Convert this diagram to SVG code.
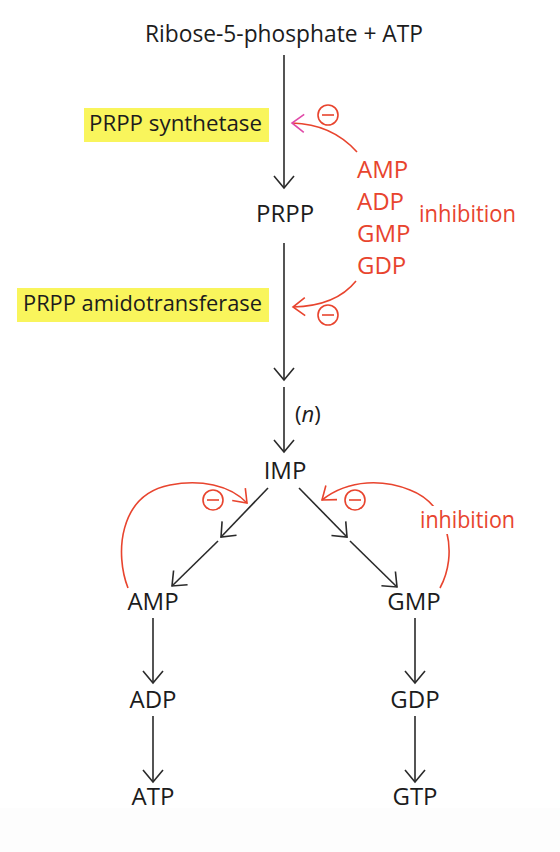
<svg xmlns="http://www.w3.org/2000/svg" width="560" height="852" viewBox="0 0 560 852">
<defs>
<style>
text{font-family:"Open Sans","Noto Sans",sans-serif;font-size:24px;fill:#1c1c1c}
.red{fill:#e8442e}
.c{text-anchor:middle}
.box{font-size:22px}
.ln{stroke:#2a2a2a;stroke-width:1.6;fill:none}
.rl{stroke:#e8442e;stroke-width:1.6;fill:none}
.hl{fill:#f9f55c}
.circ{stroke:#e8442e;stroke-width:1.6;fill:none}
</style>
<marker id="ah" markerUnits="userSpaceOnUse" markerWidth="30" markerHeight="30" viewBox="-16 -15 30 30" refX="0" refY="0" orient="auto" overflow="visible">
<path d="M-12,-10 L0,0 L-12,10" fill="none" stroke="#2a2a2a" stroke-width="1.6"/>
</marker>
<marker id="ahr" markerUnits="userSpaceOnUse" markerWidth="30" markerHeight="30" viewBox="-16 -15 30 30" refX="0" refY="0" orient="auto" overflow="visible">
<path d="M-12,-9 L0,0 L-12,9" fill="none" stroke="#e8442e" stroke-width="1.6"/>
</marker>
<marker id="ahm" markerUnits="userSpaceOnUse" markerWidth="30" markerHeight="30" viewBox="-16 -15 30 30" refX="0" refY="0" orient="auto" overflow="visible">
<path d="M-12,-9 L0,0 L-12,9" fill="none" stroke="#e04aa8" stroke-width="1.6"/>
</marker>
</defs>
<rect x="0" y="0" width="560" height="852" fill="#ffffff"/>
<rect x="0" y="808" width="560" height="44" fill="#fdfdfd"/>

<g id="connectors">
<line class="ln" x1="284" y1="55" x2="284" y2="188" marker-end="url(#ah)"/>
<line class="ln" x1="284" y1="243" x2="284" y2="380" marker-end="url(#ah)"/>
<line class="ln" x1="284" y1="387" x2="284" y2="452" marker-end="url(#ah)"/>
<line class="ln" x1="268" y1="488" x2="221" y2="537" marker-end="url(#ah)"/>
<line class="ln" x1="218" y1="541" x2="172" y2="586" marker-end="url(#ah)"/>
<line class="ln" x1="299" y1="488" x2="347" y2="537" marker-end="url(#ah)"/>
<line class="ln" x1="350" y1="541" x2="397" y2="587" marker-end="url(#ah)"/>
<line class="ln" x1="153" y1="618" x2="153" y2="683" marker-end="url(#ah)"/>
<line class="ln" x1="153" y1="716" x2="153" y2="782" marker-end="url(#ah)"/>
<line class="ln" x1="415" y1="618" x2="415" y2="683" marker-end="url(#ah)"/>
<line class="ln" x1="415" y1="716" x2="415" y2="782" marker-end="url(#ah)"/>
<path class="rl" d="M357,152 Q332,124 292,123" marker-end="url(#ahm)"/>
<path class="rl" d="M356,281 Q336,306 293,307" marker-end="url(#ahr)"/>
<path class="rl" d="M128,588 C115,555 118,495 170,485 C200,479 230,485 247,503" marker-end="url(#ahr)"/>
<path class="rl" d="M440,588 C458,555 450,505 410,490 C385,480 350,478 322,500" marker-end="url(#ahr)"/>
<circle class="circ" cx="328" cy="115" r="10"/><line class="rl" x1="322" y1="115" x2="334" y2="115"/>
<circle class="circ" cx="328" cy="315" r="10"/><line class="rl" x1="322" y1="315" x2="334" y2="315"/>
<circle class="circ" cx="213" cy="500" r="10"/><line class="rl" x1="207" y1="500" x2="219" y2="500"/>
<circle class="circ" cx="355" cy="500" r="10"/><line class="rl" x1="349" y1="500" x2="361" y2="500"/>
</g>

<g id="title"><text x="145" y="42" textLength="278" lengthAdjust="spacingAndGlyphs">Ribose-5-phosphate + ATP</text></g>
<g id="prpp-synthetase"><rect class="hl" x="84" y="108" width="185" height="34"/><text class="box" x="89" y="131" textLength="173" lengthAdjust="spacingAndGlyphs">PRPP synthetase</text></g>
<g id="prpp"><text class="c" x="285" y="222">PRPP</text></g>
<g id="prpp-amidotransferase"><rect class="hl" x="17" y="288" width="252" height="34"/><text class="box" x="23" y="311" textLength="239" lengthAdjust="spacingAndGlyphs">PRPP amidotransferase</text></g>
<g id="inhibitors">
<text class="red" x="357" y="178">AMP</text>
<text class="red" x="357" y="210">ADP</text>
<text class="red" x="357" y="242">GMP</text>
<text class="red" x="357" y="274">GDP</text>
<text class="red" x="419" y="222" textLength="97" lengthAdjust="spacingAndGlyphs">inhibition</text>
</g>
<g id="n-label"><text x="295" y="422" style="font-size:22px">(<tspan font-style="italic">n</tspan>)</text></g>
<g id="imp"><text class="c" x="285" y="479">IMP</text></g>
<g id="inhibition2"><rect x="418" y="506" width="100" height="28" fill="#ffffff"/><text class="red" x="420" y="528" textLength="95" lengthAdjust="spacingAndGlyphs">inhibition</text></g>
<g id="amp"><text class="c" x="153" y="610">AMP</text></g>
<g id="gmp"><text class="c" x="414" y="610">GMP</text></g>
<g id="adp"><text class="c" x="153" y="708">ADP</text></g>
<g id="gdp"><text class="c" x="415" y="708">GDP</text></g>
<g id="atp"><text class="c" x="153" y="805">ATP</text></g>
<g id="gtp"><text class="c" x="415" y="805">GTP</text></g>
</svg>
